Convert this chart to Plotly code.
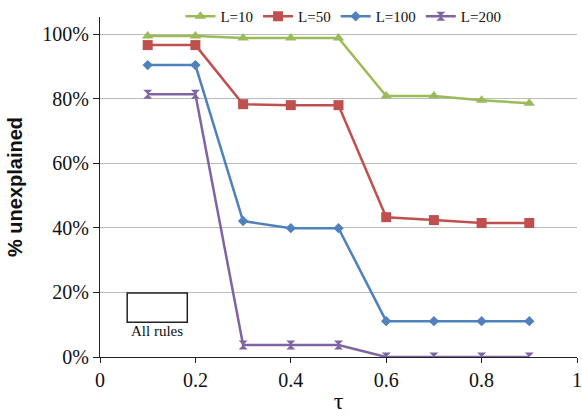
import plotly.graph_objects as go

tau = [0.1, 0.2, 0.3, 0.4, 0.5, 0.6, 0.7, 0.8, 0.9]
L10 = [0.994, 0.994, 0.988, 0.988, 0.988, 0.808, 0.808, 0.795, 0.786]
L50 = [0.966, 0.966, 0.783, 0.780, 0.780, 0.433, 0.424, 0.415, 0.415]
L100 = [0.904, 0.904, 0.421, 0.399, 0.399, 0.111, 0.111, 0.111, 0.111]
L200 = [0.814, 0.814, 0.037, 0.037, 0.037, 0.0, 0.0, 0.0, 0.0]
names = ["L=10", "L=50", "L=100", "L=200"]
colors = ["#9BBB59", "#C0504D", "#4F81BD", "#8064A2"]
symbols = ["triangle-up", "square", "diamond", "hourglass"]
sizes = [10, 10, 8, 9]
series = [L10, L50, L100, L200]
x_ticks = [0, 0.2, 0.4, 0.6, 0.8, 1]
x_labels = ["0", "0.2", "0.4", "0.6", "0.8", "1"]
y_ticks = [0, 0.2, 0.4, 0.6, 0.8, 1.0]
y_labels = ["0%", "20%", "40%", "60%", "80%", "100%"]

fig = go.Figure()
for n, c, s, sz, ys in zip(names, colors, symbols, sizes, series):
    fig.add_trace(go.Scatter(x=tau, y=ys, name=n, mode="lines+markers",
                             line=dict(color=c, width=2.5),
                             marker=dict(symbol=s, size=sz, color=c, line=dict(width=0))))

fig.add_shape(type="rect", x0=0.057, x1=0.183, y0=0.108, y1=0.198,
              xref="x", yref="y", line=dict(color="#222222", width=1.5), fillcolor="rgba(0,0,0,0)")
fig.add_annotation(x=0.12, y=0.08, text="All rules", showarrow=False, xref="x", yref="y",
                   font=dict(family="Liberation Serif", size=15, color="#111111"))

fig.update_layout(
    width=582, height=417,
    margin=dict(l=100, r=5, t=17, b=60, autoexpand=False),
    plot_bgcolor="white", paper_bgcolor="white",
    font=dict(family="Liberation Serif", color="#111111"),
    showlegend=True,
    legend=dict(orientation="h", xref="container", yref="container", x=0.31, y=1.0,
                xanchor="left", yanchor="top",
                font=dict(family="Liberation Serif", size=15), bgcolor="rgba(0,0,0,0)",
                itemwidth=30, tracegroupgap=0),
)
fig.update_xaxes(range=[0, 1], tickvals=x_ticks, ticktext=x_labels, showgrid=False,
                 showline=True, linecolor="#222222", linewidth=1.2, ticks="outside",
                 ticklen=5, tickcolor="#222222", zeroline=False, automargin=False,
                 tickfont=dict(family="Liberation Serif", size=20),
                 title=dict(text="τ", font=dict(family="Liberation Serif", size=24), standoff=2))
fig.update_yaxes(range=[0, 1.053], tickvals=y_ticks, ticktext=y_labels, showgrid=True,
                 gridcolor="#BBBBBB", gridwidth=1.2, showline=True, linecolor="#222222",
                 linewidth=1.2, ticks="outside", ticklen=6, tickcolor="#222222", zeroline=False,
                 automargin=False,
                 tickfont=dict(family="Liberation Serif", size=20),
                 title=dict(text="<b>% unexplained</b>", font=dict(family="Liberation Sans", size=20), standoff=14))

fig.write_html("out.html", config={"displayModeBar": False},
               post_script="document.body.style.margin='0';")
